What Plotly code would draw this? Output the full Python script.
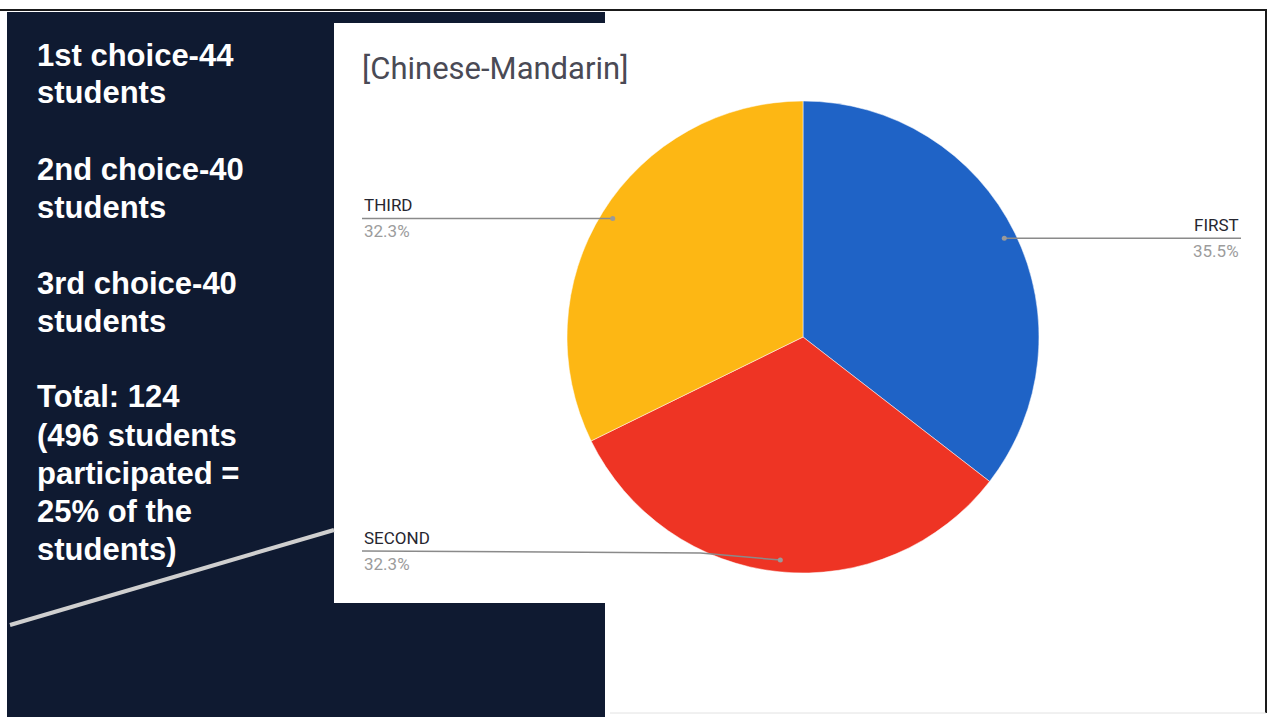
import math
import plotly.graph_objects as go

# ---- data ----
categories = ["FIRST", "SECOND", "THIRD"]
students = [44, 40, 40]
slice_colors = ["#1f63c6", "#ee3424", "#fdb714"]
chart_title = "[Chinese-Mandarin]"
side_lines = [
    "1st choice-44", "students", "",
    "2nd choice-40", "students", "",
    "3rd choice-40", "students", "",
    "Total: 124", "(496 students", "participated =", "25% of the", "students)",
]

W, H = 1270, 717


def fx(x):
    return x / W


def fy(y):
    return 1 - y / H


# pie placement (pixels)
CX, CY, R = 803, 337, 236

fig = go.Figure()
fig.add_trace(go.Pie(
    labels=categories,
    values=students,
    sort=False,
    direction="clockwise",
    rotation=0,
    marker=dict(colors=slice_colors, line=dict(color="white", width=0.5)),
    textinfo="none",
    hoverinfo="label+percent",
    showlegend=False,
    domain=dict(x=[fx(CX - R), fx(CX + R)], y=[fy(CY + R), fy(CY - R)]),
))

shapes = []
# navy background panel
shapes.append(dict(type="rect", xref="paper", yref="paper", layer="below",
                   x0=fx(7), x1=fx(605), y0=fy(717), y1=fy(12),
                   fillcolor="#0f1a31", line=dict(width=0)))
# white chart card
shapes.append(dict(type="rect", xref="paper", yref="paper", layer="below",
                   x0=fx(334), x1=fx(1266), y0=fy(603), y1=fy(23),
                   fillcolor="white", line=dict(width=0)))
# diagonal gray stroke
shapes.append(dict(type="line", xref="paper", yref="paper", layer="below",
                   x0=fx(10), y0=fy(625), x1=fx(334), y1=fy(530),
                   line=dict(color="#cfcfcf", width=4)))
# outer frame
shapes.append(dict(type="line", xref="paper", yref="paper",
                   x0=fx(0), y0=fy(10), x1=fx(1267), y1=fy(10),
                   line=dict(color="#1a1a1a", width=2)))
shapes.append(dict(type="line", xref="paper", yref="paper",
                   x0=fx(1266), y0=fy(10), x1=fx(1266), y1=fy(713),
                   line=dict(color="#1a1a1a", width=2)))
shapes.append(dict(type="line", xref="paper", yref="paper",
                   x0=fx(610), y0=fy(713), x1=fx(1266), y1=fy(713),
                   line=dict(color="#e2e2e2", width=1)))

annotations = []

# label leader lines (computed from slice angles)
total = sum(students)
label_layout = {
    "FIRST": dict(side="right", x=1241, y=None),
    "SECOND": dict(side="left", x=362, y=551),
    "THIRD": dict(side="left", x=362, y=None),
}
cum = 0
for name, v in zip(categories, students):
    mid = 2 * math.pi * (cum + v / 2) / total
    cum += v
    dx = CX + 0.95 * R * math.sin(mid)
    dy = CY - 0.95 * R * math.cos(mid)
    lay = label_layout[name]
    ly = dy if lay["y"] is None else lay["y"]
    if lay["y"] is None:
        path = f"M {fx(lay['x'])} {fy(ly)} L {fx(dx)} {fy(dy)}"
    else:
        knee = dx - 80
        path = f"M {fx(lay['x'])} {fy(ly)} L {fx(knee)} {fy(ly + 2)} L {fx(dx)} {fy(dy)}"
    shapes.append(dict(type="path", xref="paper", yref="paper", path=path,
                       line=dict(color="#8a8a8a", width=1.5)))
    shapes.append(dict(type="circle", xref="paper", yref="paper",
                       x0=fx(dx - 2.5), x1=fx(dx + 2.5), y0=fy(dy + 2.5), y1=fy(dy - 2.5),
                       fillcolor="#9a9a9a", line=dict(width=0)))
    anchor = "right" if lay["side"] == "right" else "left"
    annotations.append(dict(text=name, xref="paper", yref="paper",
                            x=fx(lay["x"]), y=fy(ly - 1), xanchor=anchor, yanchor="bottom",
                            showarrow=False,
                            font=dict(family="Roboto", size=17, color="#262630")))
    annotations.append(dict(text=f"{v / total * 100:.1f}%", xref="paper", yref="paper",
                            x=fx(lay["x"]), y=fy(ly + 1), xanchor=anchor, yanchor="top",
                            showarrow=False,
                            font=dict(family="Roboto", size=17, color="#9c9c9c")))

# chart title
annotations.append(dict(text=chart_title, xref="paper", yref="paper",
                        x=fx(360), y=fy(69), xanchor="left", yanchor="middle",
                        showarrow=False,
                        font=dict(family="Roboto", size=31, color="#4a4a55")))

# side panel text
for i, line in enumerate(side_lines):
    if not line:
        continue
    annotations.append(dict(text=f"<b>{line}</b>", xref="paper", yref="paper",
                            x=fx(35), y=fy(55 + 38 * i), xanchor="left", yanchor="middle",
                            showarrow=False,
                            font=dict(family="Liberation Sans", size=31, color="white")))

fig.update_layout(
    width=W, height=H,
    margin=dict(l=0, r=0, t=0, b=0),
    paper_bgcolor="white",
    plot_bgcolor="white",
    shapes=shapes,
    annotations=annotations,
)

fig.write_html("out.html", config={"displayModeBar": False})
